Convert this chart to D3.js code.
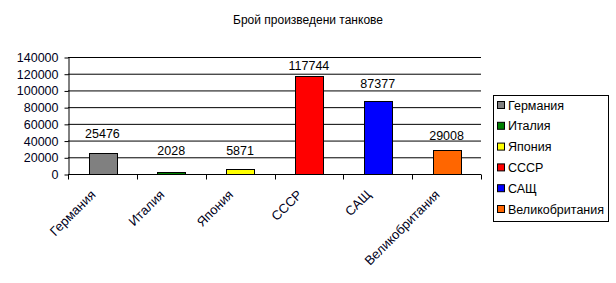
<!DOCTYPE html>
<html>
<head>
  <meta charset="UTF-8">
  <title>Брой произведени танкове</title>
  <script src="https://d3js.org/d3.v7.min.js"></script>
  <style>
    body { margin: 0; background: #fff; }
    text { font-family: Arial, "Liberation Sans", sans-serif; }
  </style>
</head>
<body>
  <svg width="616" height="283"></svg>

  <script>
    // Data
    const countries = ["Германия", "Италия", "Япония", "СССР", "САЩ", "Великобритания"];
    const tanks = [25476, 2028, 5871, 117744, 87377, 29008];
    const colors = ["#808080", "#008000", "#ffff00", "#ff0000", "#0000ff", "#ff6600"];
    const yTicks = [0, 20000, 40000, 60000, 80000, 100000, 120000, 140000];

    const svg = d3.select("svg");
    const plot = { left: 68, right: 481, top: 57, bottom: 174 };
    // labels were hand-placed in the original, so each one sits a bit differently above its bar
    const labelDy = [15, 17, 14, 6, 13, 10];

    const x = d3.scaleBand()
      .domain(countries)
      .range([plot.left, plot.right])
      .paddingInner(0.6)
      .paddingOuter(0.3);
    const xTick = d3.scaleBand().domain(countries).range([plot.left, plot.right]);
    const y = d3.scaleLinear().domain([0, 140000]).range([plot.bottom, plot.top]);

    // Title
    svg.append("text")
      .attr("x", 308)
      .attr("y", 24)
      .attr("text-anchor", "middle")
      .style("font-size", "12px")
      .text("Брой произведени танкове");

    // Gridlines
    svg.append("g")
      .selectAll("line")
      .data(yTicks)
      .join("line")
      .attr("x1", plot.left)
      .attr("x2", plot.right)
      .attr("y1", d => y(d) + 0.5)
      .attr("y2", d => y(d) + 0.5)
      .attr("stroke", "#000");

    // Y axis
    const yAxis = svg.append("g")
      .attr("transform", `translate(${plot.left + 0.5},0.5)`)
      .attr("color", "#000")
      .call(d3.axisLeft(y).tickValues(yTicks).tickSize(4).tickSizeOuter(0).tickPadding(6).tickFormat(d3.format("d")));
    yAxis.selectAll("text")
      .style("font-size", "12.5px")
      .style("font-family", "Arial, 'Liberation Sans', sans-serif")
      .attr("fill", "#000020");

    // Bars
    svg.append("g")
      .selectAll("rect")
      .data(countries)
      .join("rect")
      .attr("x", d => Math.round(x(d)) + 0.5)
      .attr("y", (d, i) => Math.round(y(tanks[i])) + 0.5)
      .attr("width", Math.round(x.bandwidth()))
      .attr("height", (d, i) => Math.max(0, Math.round(plot.bottom - y(tanks[i]))))
      .attr("fill", (d, i) => colors[i])
      .attr("stroke", "#000");

    // Value labels
    svg.append("g")
      .selectAll("text")
      .data(countries)
      .join("text")
      .attr("x", d => x(d) + x.bandwidth() / 2)
      .attr("y", (d, i) => y(tanks[i]) - labelDy[i])
      .attr("text-anchor", "middle")
      .style("font-size", "12.5px")
      .text((d, i) => tanks[i]);

    // X axis
    const xAxis = svg.append("g")
      .attr("transform", `translate(0,${plot.bottom + 0.5})`);
    xAxis.append("line")
      .attr("x1", plot.left)
      .attr("x2", plot.right)
      .attr("stroke", "#000");
    const edges = countries.map(d => xTick(d)).concat([plot.right]);
    xAxis.selectAll("line.tick")
      .data(edges)
      .join("line")
      .attr("class", "tick")
      .attr("x1", d => Math.round(d) + 0.5)
      .attr("x2", d => Math.round(d) + 0.5)
      .attr("y1", 0)
      .attr("y2", 5)
      .attr("stroke", "#000");
    xAxis.selectAll("text")
      .data(countries)
      .join("text")
      .attr("transform", d => `translate(${xTick(d) + xTick.bandwidth() / 2 - 6},21) rotate(-45)`)
      .attr("text-anchor", "end")
      .attr("fill", "#000020")
      .style("font-size", "13px")
      .text(d => d);

    // Legend
    const legend = svg.append("g");
    legend.append("rect")
      .attr("x", 493.5)
      .attr("y", 95.5)
      .attr("width", 115)
      .attr("height", 126)
      .attr("fill", "#fff")
      .attr("stroke", "#000");
    const items = legend.selectAll("g.item")
      .data(countries)
      .join("g")
      .attr("class", "item")
      .attr("transform", (d, i) => `translate(497,${105 + i * 20.8})`);
    items.append("rect")
      .attr("x", 0.5)
      .attr("y", -3.5)
      .attr("width", 7)
      .attr("height", 7)
      .attr("fill", (d, i) => colors[i])
      .attr("stroke", "#000");
    items.append("text")
      .attr("x", 11)
      .attr("y", 4.5)
      .style("font-size", "12.5px")
      .text(d => d);
  </script>
</body>
</html>
